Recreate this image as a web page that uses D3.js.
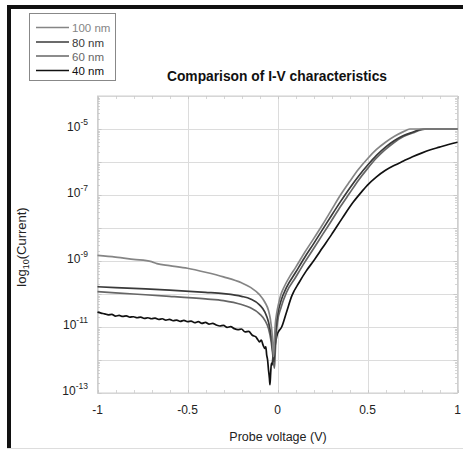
<!DOCTYPE html>
<html><head><meta charset="utf-8">
<script src="https://cdn.jsdelivr.net/npm/d3@7"></script>
<style>body{margin:0;background:#fff;}svg{display:block;font-family:"Liberation Sans",Arial,sans-serif;}</style>
</head><body><svg id="c" width="463" height="450"></svg>
<script>
const seriesNames = ["100 nm","80 nm","60 nm","40 nm"];
const seriesColors = ["#858585","#3a3a3a","#666666","#111111"];
const xTicks = [-1,-0.5,0,0.5,1];
const xTickLabels = ["-1","-0.5","0","0.5","1"];
const yLabelExps = [-5,-7,-9,-11,-13];

// [voltage, log10(current)]
const s100 = [[-1,-8.83],[-0.9,-8.88],[-0.8,-8.95],[-0.7,-9.02],[-0.67,-9.08],[-0.6,-9.14],[-0.5,-9.22],[-0.4,-9.34],[-0.3,-9.48],[-0.2,-9.66],[-0.15,-9.8],[-0.1,-10.02],[-0.07,-10.25],[-0.05,-10.5],[-0.04,-10.75],[-0.03,-11.2],[-0.022,-11.9],[-0.018,-11.5],[-0.012,-10.9],[-0.005,-10.6],[0,-10.45],[0.01,-10.2],[0.02,-10.0],[0.04,-9.75],[0.07,-9.45],[0.1,-9.2],[0.15,-8.75],[0.2,-8.33],[0.25,-7.9],[0.3,-7.45],[0.35,-7.0],[0.4,-6.6],[0.45,-6.22],[0.5,-5.9],[0.55,-5.62],[0.6,-5.4],[0.65,-5.22],[0.7,-5.08],[0.735,-5.0],[0.8,-5],[0.9,-5],[1.0,-5]];
const s80 = [[-1,-9.78],[-0.8,-9.83],[-0.6,-9.88],[-0.4,-9.95],[-0.3,-9.99],[-0.2,-10.07],[-0.15,-10.15],[-0.1,-10.33],[-0.07,-10.55],[-0.05,-10.85],[-0.035,-11.3],[-0.025,-11.8],[-0.02,-12.05],[-0.015,-11.6],[-0.008,-11.0],[0,-10.65],[0.02,-10.2],[0.05,-9.8],[0.1,-9.35],[0.15,-8.9],[0.2,-8.48],[0.25,-8.05],[0.3,-7.62],[0.35,-7.2],[0.4,-6.8],[0.45,-6.43],[0.5,-6.1],[0.55,-5.8],[0.6,-5.55],[0.65,-5.35],[0.7,-5.2],[0.75,-5.1],[0.81,-5.0],[0.9,-5],[1.0,-5]];
const s60 = [[-1,-9.93],[-0.8,-10.0],[-0.6,-10.07],[-0.4,-10.15],[-0.3,-10.2],[-0.2,-10.32],[-0.15,-10.42],[-0.1,-10.6],[-0.07,-10.8],[-0.05,-11.05],[-0.035,-11.45],[-0.025,-11.9],[-0.017,-12.25],[-0.012,-11.7],[-0.005,-11.1],[0,-10.85],[0.02,-10.4],[0.05,-9.95],[0.1,-9.5],[0.15,-9.05],[0.2,-8.63],[0.25,-8.2],[0.3,-7.78],[0.35,-7.35],[0.4,-6.95],[0.45,-6.55],[0.5,-6.2],[0.55,-5.88],[0.6,-5.62],[0.65,-5.4],[0.7,-5.23],[0.75,-5.12],[0.83,-5.0],[0.9,-5],[1.0,-5]];
const s40 = [[-1,-10.55],[-0.98,-10.58],[-0.96,-10.6],[-0.94,-10.63],[-0.92,-10.62],[-0.9,-10.67],[-0.88,-10.65],[-0.86,-10.68],[-0.84,-10.66],[-0.82,-10.7],[-0.8,-10.69],[-0.78,-10.72],[-0.76,-10.7],[-0.74,-10.74],[-0.72,-10.72],[-0.7,-10.75],[-0.68,-10.73],[-0.66,-10.77],[-0.64,-10.75],[-0.62,-10.79],[-0.6,-10.77],[-0.58,-10.81],[-0.56,-10.79],[-0.54,-10.83],[-0.52,-10.8],[-0.5,-10.84],[-0.48,-10.82],[-0.46,-10.87],[-0.44,-10.84],[-0.42,-10.89],[-0.4,-10.86],[-0.38,-10.91],[-0.36,-10.89],[-0.34,-10.94],[-0.32,-10.97],[-0.3,-10.95],[-0.28,-11.01],[-0.26,-10.99],[-0.24,-11.05],[-0.22,-11.08],[-0.2,-11.06],[-0.18,-11.15],[-0.16,-11.13],[-0.14,-11.25],[-0.12,-11.3],[-0.11,-11.38],[-0.1,-11.45],[-0.09,-11.4],[-0.08,-11.55],[-0.07,-11.65],[-0.065,-11.6],[-0.06,-11.85],[-0.055,-12.0],[-0.05,-12.3],[-0.045,-12.55],[-0.042,-12.75],[-0.038,-12.4],[-0.034,-12.1],[-0.03,-12.15],[-0.026,-11.95],[-0.022,-11.6],[-0.018,-11.9],[-0.014,-11.6],[-0.01,-11.45],[0,-11.2],[0.023,-11.0],[0.05,-10.55],[0.08,-10.05],[0.12,-9.65],[0.16,-9.3],[0.2,-9.0],[0.25,-8.6],[0.3,-8.2],[0.36,-7.7],[0.42,-7.22],[0.46,-6.95],[0.5,-6.7],[0.55,-6.45],[0.6,-6.25],[0.65,-6.1],[0.7,-5.97],[0.75,-5.84],[0.8,-5.73],[0.85,-5.63],[0.9,-5.55],[0.95,-5.47],[1.0,-5.4]];
const seriesData = [s100, s80, s60, s40];

const svg = d3.select("#c");
const L = 97.5, R = 457.5, T = 96, B = 393;
const x = d3.scaleLinear().domain([-1,1]).range([L,R]);
const y = d3.scaleLog().domain([1e-13,1e-4]).range([B,T]);

// outer frame
svg.append("rect").attr("x",7).attr("y",5).attr("width",456).attr("height",4).attr("fill","#111");
svg.append("rect").attr("x",7).attr("y",5).attr("width",4).attr("height",444).attr("fill","#111");
svg.append("line").attr("x1",7).attr("x2",463).attr("y1",448.5).attr("y2",448.5).attr("stroke","#ddd");

// gridlines
const decades = d3.range(-13,-3).map(e=>Math.pow(10,e));
svg.append("g").selectAll("line").data(decades).join("line")
  .attr("x1",L).attr("x2",R).attr("y1",d=>Math.round(y(d))+0.5).attr("y2",d=>Math.round(y(d))+0.5)
  .attr("stroke","#dcdcdc");
svg.append("g").selectAll("line").data(xTicks).join("line")
  .attr("x1",d=>Math.round(x(d))+0.5).attr("x2",d=>Math.round(x(d))+0.5).attr("y1",T).attr("y2",B)
  .attr("stroke","#dcdcdc");

// minor ticks
const minorY = [];
d3.range(-13,-4).forEach(e=>{ for(let k=1;k<10;k++) minorY.push(k*Math.pow(10,e)); });
const gm = svg.append("g").attr("stroke","#bbb").attr("stroke-width",0.6);
minorY.forEach(v=>{
  const yy = Math.round(y(v))+0.5;
  const len = (Math.abs(Math.log10(v)%1)<1e-9)?4:2.5;
  gm.append("line").attr("x1",L).attr("x2",L+len).attr("y1",yy).attr("y2",yy);
  gm.append("line").attr("x1",R-len).attr("x2",R).attr("y1",yy).attr("y2",yy);
});
d3.range(-10,11).forEach(i=>{
  const xx = Math.round(x(i/10))+0.5;
  gm.append("line").attr("x1",xx).attr("x2",xx).attr("y1",B).attr("y2",B-3);
  gm.append("line").attr("x1",xx).attr("x2",xx).attr("y1",T).attr("y2",T+3);
});

// plot frame
svg.append("rect").attr("x",L).attr("y",T).attr("width",R-L).attr("height",B-T)
  .attr("fill","none").attr("stroke","#cfcfcf");

// y tick labels
const yl = svg.append("g").attr("font-size",12).attr("fill","#222");
yLabelExps.forEach(e=>{
  const t = yl.append("text").attr("x",88).attr("y",y(Math.pow(10,e))+2).attr("text-anchor","end");
  t.append("tspan").text("10");
  t.append("tspan").attr("dy",-6).attr("font-size",8.5).text(String(e));
});
// x tick labels
svg.append("g").selectAll("text").data(xTicks).join("text")
  .attr("x",d=>x(d)).attr("y",414).attr("text-anchor","middle").attr("font-size",12).attr("fill","#222")
  .text((d,i)=>xTickLabels[i]);

// lines
const line = d3.line().x(d=>x(d[0])).y(d=>y(Math.pow(10,d[1]))).curve(d3.curveMonotoneX);
const order = [3,2,1,0];
order.forEach(i=>{
  svg.append("path").datum(seriesData[i]).attr("d",line).attr("fill","none")
    .attr("stroke",seriesColors[i]).attr("stroke-width",1.7).attr("stroke-linejoin","round");
});

// title
svg.append("text").attr("x",277).attr("y",81).attr("text-anchor","middle")
  .attr("font-size",13.8).attr("font-weight","bold").attr("fill","#111").text("Comparison of I-V characteristics");
// x label
svg.append("text").attr("x",278).attr("y",441).attr("text-anchor","middle")
  .attr("font-size",12.5).attr("fill","#222").text("Probe voltage (V)");
// y label
const ylab = svg.append("text").attr("transform","translate(26,247) rotate(-90)")
  .attr("text-anchor","middle").attr("font-size",13).attr("fill","#222");
ylab.append("tspan").text("log");
ylab.append("tspan").attr("dy",3).attr("font-size",9).text("10");
ylab.append("tspan").attr("dy",-3).text("(Current)");

// legend
svg.append("rect").attr("x",29.5).attr("y",13.5).attr("width",86).attr("height",67)
  .attr("fill","#fff").attr("stroke","#888");
const legY = [27.5,42,56,70.5];
seriesNames.forEach((n,i)=>{
  svg.append("line").attr("x1",36).attr("x2",69).attr("y1",legY[i]).attr("y2",legY[i])
    .attr("stroke",seriesColors[i]).attr("stroke-width",1.5);
  svg.append("text").attr("x",72).attr("y",legY[i]+4.5).attr("font-size",11.5).attr("fill",seriesColors[i]).text(n);
});
</script></body></html>
